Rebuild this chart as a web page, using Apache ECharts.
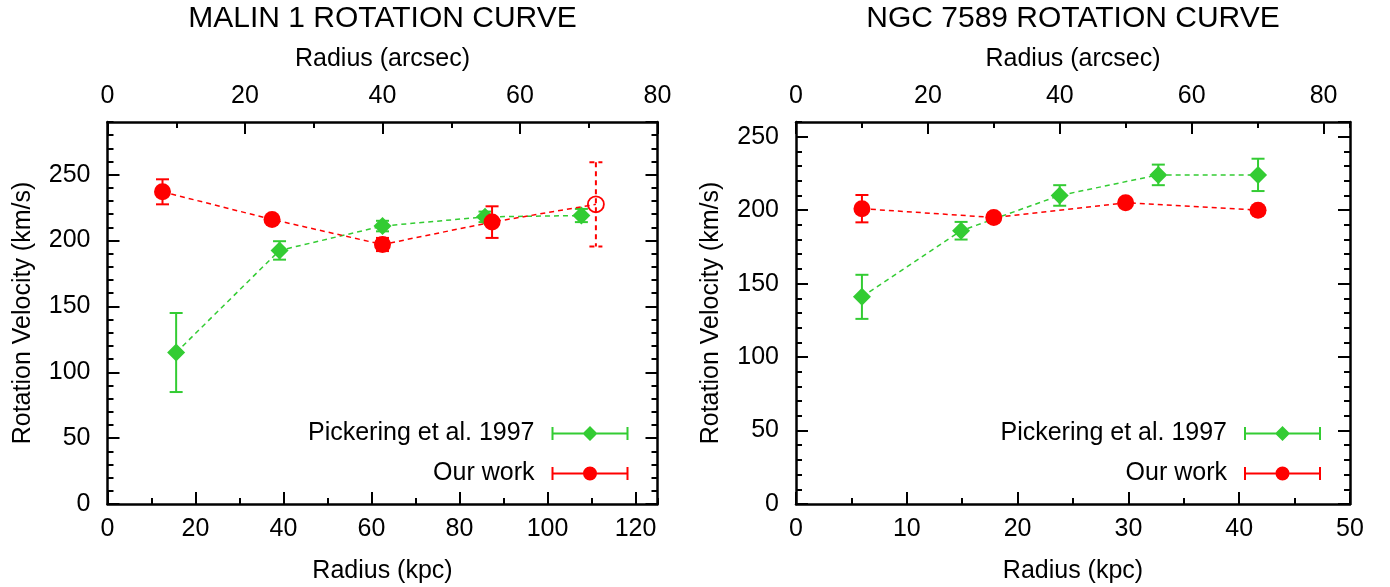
<!DOCTYPE html>
<html>
<head>
<meta charset="utf-8">
<script src="https://cdn.jsdelivr.net/npm/echarts@6/dist/echarts.min.js"></script>
<style>
html,body{margin:0;padding:0;background:#fff;}
#chart{width:1390px;height:587px;}
</style>
</head>
<body>
<div id="chart"></div>
<script>
// ---------------- DATA ----------------
// MALIN 1 (radius in kpc, velocity in km/s, symmetric error)
const malinPickR = [15.6, 39.1, 62.5, 85.8, 107.7];
const malinPickV = [115, 192.5, 211, 218, 219];
const malinPickE = [30, 7, 4, 4, 5];
const malinOursR = [12.5, 37.4, 62.5, 87.4, 111.0];
const malinOursV = [237, 216, 197, 214, 227.5];
const malinOursE = [9.5, 2, 5, 12, 32];
const malinOursOpen = [false, false, false, false, true];

// NGC 7589
const ngcPickR = [5.95, 14.9, 23.8, 32.7, 41.7];
const ngcPickV = [141, 186, 210, 224, 224];
const ngcPickE = [15, 6, 7, 7, 11];
const ngcOursR = [5.95, 17.85, 29.75, 41.7];
const ngcOursV = [201, 195, 205, 200];
const ngcOursE = [9.3, 3, 0, 0];
const ngcOursOpen = [false, false, false, false];

// axis ranges / ticks
const titles = ['MALIN 1 ROTATION CURVE', 'NGC 7589 ROTATION CURVE'];
const kpcMax = [125, 50], kpcMajor = [20, 10], kpcMinor = [10, 5];
const arcMax = [80, 84], arcMajor = [20, 20], arcMinor = [10, 10];
const velMax = [290, 260], velMajor = [50, 50], velMinor = [10, 10];
const legendNames = ['Pickering et al. 1997', 'Our work'];

// ---------------- STYLE ----------------
const FONT = '"Liberation Sans", Arial, Helvetica, sans-serif';
const FS = 25;
const GREEN = '#33cc33';
const RED = '#ff0000';
const grids = [
  {left: 107.5, top: 122, width: 550, height: 382},
  {left: 796, top: 122, width: 554, height: 382}
];

const xAxes = [], yAxes = [], series = [], legends = [], titleOpts = [];

function baseAxis(extra) {
  return Object.assign({
    type: 'value', min: 0, silent: true,
    splitLine: {show: false},
    axisLine: {show: false, onZero: false},
    axisLabel: {show: false},
    axisTick: {show: true, inside: true, length: 12, lineStyle: {color: '#000', width: 2}},
    nameMoveOverlap: false
  }, extra);
}
function label(margin, showMax) {
  return {show: true, fontSize: FS, color: '#000', fontFamily: FONT, margin: margin,
          showMinLabel: true, showMaxLabel: showMax, hideOverlap: false};
}
const nameStyle = {fontSize: FS, color: '#000', fontFamily: FONT};
const frameLine = {show: true, onZero: false, lineStyle: {color: '#000', width: 2.5}};
const minorTick = {show: true, inside: true, length: 6, lineStyle: {color: '#000', width: 2}};

function errSeries(name, gi, R, V, E, open, color, z) {
  const data = R.map((r, i) => [r, V[i], E[i], open[i] ? 1 : 0]);
  return {
    type: 'custom', name: name, xAxisIndex: gi * 4, yAxisIndex: gi * 4, z: z, silent: true,
    data: data, encode: {x: 0, y: 1},
    renderItem: function (params, api) {
      const x = api.value(0), y = api.value(1), e = api.value(2), dashed = api.value(3);
      if (!e) return null;
      const t = api.coord([x, y + e]), b = api.coord([x, y - e]);
      const hw = 6.5;
      const st = {stroke: color, lineWidth: 2, fill: null, lineDash: dashed ? [5, 4] : null};
      return {type: 'group', children: [
        {type: 'line', shape: {x1: t[0], y1: t[1], x2: b[0], y2: b[1]}, style: st},
        {type: 'line', shape: {x1: t[0] - hw, y1: t[1], x2: t[0] + hw, y2: t[1]}, style: st},
        {type: 'line', shape: {x1: b[0] - hw, y1: b[1], x2: b[0] + hw, y2: b[1]}, style: st}
      ]};
    }
  };
}

function panel(gi, pick, ours) {
  // x axes: 0 bottom major, 1 bottom minor, 2 top major, 3 top minor
  xAxes.push(baseAxis({gridIndex: gi, position: 'bottom', max: kpcMax[gi], interval: kpcMajor[gi],
    axisLine: frameLine, axisLabel: label(13, kpcMax[gi] % kpcMajor[gi] === 0),
    name: 'Radius (kpc)', nameLocation: 'middle', nameGap: 55, nameTextStyle: nameStyle}));
  xAxes.push(baseAxis({gridIndex: gi, position: 'bottom', max: kpcMax[gi], interval: kpcMinor[gi],
    axisTick: minorTick}));
  xAxes.push(baseAxis({gridIndex: gi, position: 'top', max: arcMax[gi], interval: arcMajor[gi],
    axisLine: frameLine, axisLabel: label(13, arcMax[gi] % arcMajor[gi] === 0),
    name: 'Radius (arcsec)', nameLocation: 'middle', nameGap: 50, nameTextStyle: nameStyle}));
  xAxes.push(baseAxis({gridIndex: gi, position: 'top', max: arcMax[gi], interval: arcMinor[gi],
    axisTick: minorTick}));
  // y axes: 0 left major, 1 left minor, 2 right major, 3 right minor
  yAxes.push(baseAxis({gridIndex: gi, position: 'left', max: velMax[gi], interval: velMajor[gi],
    axisLine: frameLine, axisLabel: label(17, false),
    name: 'Rotation Velocity (km/s)', nameLocation: 'middle', nameGap: 72, nameTextStyle: nameStyle}));
  yAxes.push(baseAxis({gridIndex: gi, position: 'left', max: velMax[gi], interval: velMinor[gi],
    axisTick: minorTick}));
  yAxes.push(baseAxis({gridIndex: gi, position: 'right', max: velMax[gi], interval: velMajor[gi],
    axisLine: frameLine}));
  yAxes.push(baseAxis({gridIndex: gi, position: 'right', max: velMax[gi], interval: velMinor[gi],
    axisTick: minorTick}));

  const lineBase = {type: 'line', xAxisIndex: gi * 4, yAxisIndex: gi * 4, silent: true,
    showSymbol: true, showAllSymbol: true, animation: false, emphasis: {disabled: true}};

  series.push(errSeries('pickErr' + gi, gi, pick.R, pick.V, pick.E, pick.R.map(() => false), GREEN, 2));
  series.push(Object.assign({}, lineBase, {
    name: legendNames[0], z: 3,
    data: pick.R.map((r, i) => [r, pick.V[i]]),
    symbol: 'diamond', symbolSize: 18,
    itemStyle: {color: GREEN},
    lineStyle: {color: GREEN, width: 1.5, type: [5, 4]}
  }));
  series.push(errSeries('oursErr' + gi, gi, ours.R, ours.V, ours.E, ours.open, RED, 4));
  series.push(Object.assign({}, lineBase, {
    name: legendNames[1], z: 5,
    data: ours.R.map((r, i) => ours.open[i]
      ? {value: [r, ours.V[i]], symbolSize: 16, itemStyle: {color: 'rgba(0,0,0,0)', borderColor: RED, borderWidth: 1.8}}
      : [r, ours.V[i]]),
    symbol: 'circle', symbolSize: 17,
    itemStyle: {color: RED},
    lineStyle: {color: RED, width: 1.5, type: [5, 4]}
  }));

  const g = grids[gi];
  titleOpts.push({text: titles[gi], left: g.left + g.width / 2, top: 4, textAlign: 'center', padding: 0,
    textStyle: {fontSize: 30, fontWeight: 'normal', color: '#000', fontFamily: FONT}});

  const specks = 'M0 0 L0.01 0 L0 0.01 Z M77 15 L76.99 15 L77 14.99 Z ';
  const bars = 'M0 1 L2 1 L2 14 L0 14 Z M0 6.5 L77 6.5 L77 8.5 L0 8.5 Z M75 1 L77 1 L77 14 L75 14 Z ';
  const diamondIcon = 'path://' + specks + bars + 'M38.5 0 L46 7.5 L38.5 15 L31 7.5 Z';
  const circleIcon = 'path://' + specks + bars + 'M31.5 7.5 A7 7 0 1 1 45.5 7.5 A7 7 0 1 1 31.5 7.5 Z';
  legends.push({
    orient: 'vertical', align: 'right', selectedMode: false, padding: 0,
    right: 1390 - (g.left + g.width) + 29, top: 421,
    itemWidth: 77, itemHeight: 15, itemGap: 15,
    textStyle: {fontSize: FS, color: '#000', fontFamily: FONT, padding: [0, 12, 0, 0]},
    data: [{name: legendNames[0], icon: diamondIcon}, {name: legendNames[1], icon: circleIcon}]
  });
}

panel(0, {R: malinPickR, V: malinPickV, E: malinPickE},
         {R: malinOursR, V: malinOursV, E: malinOursE, open: malinOursOpen});
panel(1, {R: ngcPickR, V: ngcPickV, E: ngcPickE},
         {R: ngcOursR, V: ngcOursV, E: ngcOursE, open: ngcOursOpen});

const chart = echarts.init(document.getElementById('chart'), null, {renderer: 'canvas'});
chart.setOption({
  animation: false,
  backgroundColor: '#fff',
  textStyle: {fontFamily: FONT},
  title: titleOpts,
  legend: legends,
  grid: grids.map(g => Object.assign({containLabel: false, outerBoundsMode: 'none'}, g)),
  xAxis: xAxes,
  yAxis: yAxes,
  series: series
});
</script>
</body>
</html>
